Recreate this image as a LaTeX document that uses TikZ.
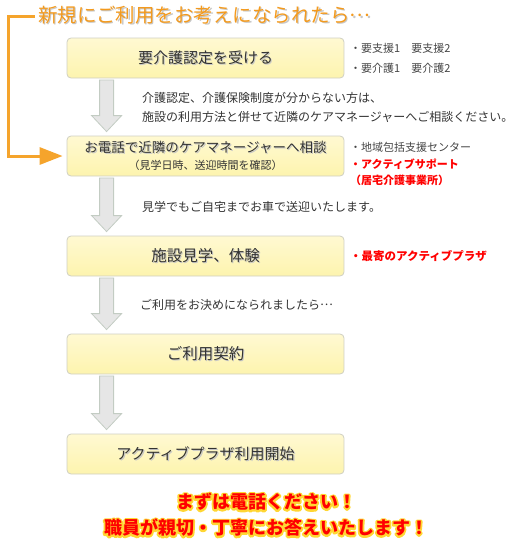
\documentclass[tikz,border=0pt]{standalone}
\usepackage{fontspec}
\setmainfont{Noto Sans CJK JP}
\usetikzlibrary{calc,arrows.meta}
\definecolor{boxfill}{HTML}{FDF4AE}
\definecolor{boxtop}{HTML}{FFF9D2}
\definecolor{boxline}{HTML}{CFCFC2}
\definecolor{arrfill}{HTML}{E6E6E6}
\definecolor{arrline}{HTML}{C3CCC3}
\definecolor{orangeline}{HTML}{F5A42C}
\definecolor{titleorange}{HTML}{F39A1E}
\definecolor{txt}{HTML}{333333}
\definecolor{notegray}{HTML}{444444}
\definecolor{notered}{HTML}{FF0000}
\newcommand\shtext[1]{\makebox[0pt][l]{\hspace{1.2pt}\raisebox{-1.2pt}{\textcolor{black!22}{#1}}}#1}
\newcommand\glowtext[1]{\makebox[0pt][l]{\special{pdf:code q 1 Tr 3.6 w 1 j 1 0.84 0.2 RG}#1\special{pdf:code Q}}#1}
\newcommand\middots{\raisebox{0.3em}{…}}
\begin{document}
\begin{tikzpicture}[x=1pt, y=-1pt,
  box/.style={draw=boxline, line width=0.8pt, rounded corners=4pt, top color=boxtop, bottom color=boxfill, minimum width=277pt, minimum height=40pt, inner sep=0pt, text=txt, align=center},
  desc/.style={anchor=west, align=left, inner sep=0pt, text=txt, font=\fontsize{12}{19}\selectfont},
  note/.style={anchor=west, align=left, inner sep=0pt, text=notegray, font=\fontsize{11}{20}\selectfont},
  blk/.style={draw=arrline, fill=arrfill, line width=0.8pt},
  oline/.style={draw=orangeline, line width=3pt}]
\useasboundingbox (0,0) rectangle (520,546);
\node[anchor=west, inner sep=0pt, text=titleorange, font=\fontsize{19.5}{22}\selectfont] at (38,16) (title) {\shtext{新規にご利用をお考えになられたら\middots}};
\node[box, font=\fontsize{15}{18}\selectfont] at (205.5,58) (b1) {\shtext{要介護認定を受ける}};
\node[box, font=\fontsize{11}{17}\selectfont] at (205.5,156) (b2) {{\fontsize{13.5}{17}\selectfont\shtext{お電話で近隣のケアマネージャーへ相談}}\\（見学日時、送迎時間を確認）};
\node[box, font=\fontsize{15.5}{18}\selectfont] at (205.5,256) (b3) {\shtext{施設見学、体験}};
\node[box, font=\fontsize{15.5}{18}\selectfont] at (205.5,354) (b4) {\shtext{ご利用契約}};
\node[box, font=\fontsize{15}{18}\selectfont] at (205.5,454) (b5) {\shtext{アクティブプラザ利用開始}};
\node[note] at (350,58) (n1) {・要支援1　要支援2\\・要介護1　要介護2};
\node[note, font=\fontsize{11}{16.5}\selectfont] at (350,164) (n2) {・地域包括支援センター\\{\color{notered}\bfseries ・アクティブサポート}\\{\color{notered}\bfseries （居宅介護事業所）}};
\node[note, text=notered, font=\fontsize{11.5}{14}\selectfont\bfseries] at (350,256) (n3) {・最寄のアクティブプラザ};
\node[desc] at (142,107.5) (d1) {介護認定、介護保険制度が分からない方は、\\施設の利用方法と併せて近隣のケアマネージャーへご相談ください。};
\node[desc] at (142,207) (d2) {見学でもご自宅までお車で送迎いたします。};
\node[desc] at (140,305) (d3) {ご利用をお決めになられましたら\middots};
\node[align=center, inner sep=0pt, text=notered, font=\fontsize{18}{26}\selectfont\bfseries] at (266,515) (call) {\glowtext{まずは電話ください！}\\\glowtext{職員が親切・丁寧にお答えいたします！}};
\coordinate (bend) at (8,16);
\draw[oline, shorten <=3pt, shorten >=4pt, -{Triangle[length=23pt,width=17pt]}] (title.west) -- (bend) |- (b2.west);
\foreach \a/\b in {b1/b2,b2/b3,b3/b4,b4/b5}
  \draw[blk] ($(\a.south west)+(33,1.5)$) -- ($(\b.north west)+(33,-20)$) -- ($(\b.north west)+(25,-20)$) -- ($(\b.north west)+(40,-4)$) -- ($(\b.north west)+(55,-20)$) -- ($(\b.north west)+(47,-20)$) -- ($(\a.south west)+(47,1.5)$) -- cycle;
\end{tikzpicture}
\end{document}
